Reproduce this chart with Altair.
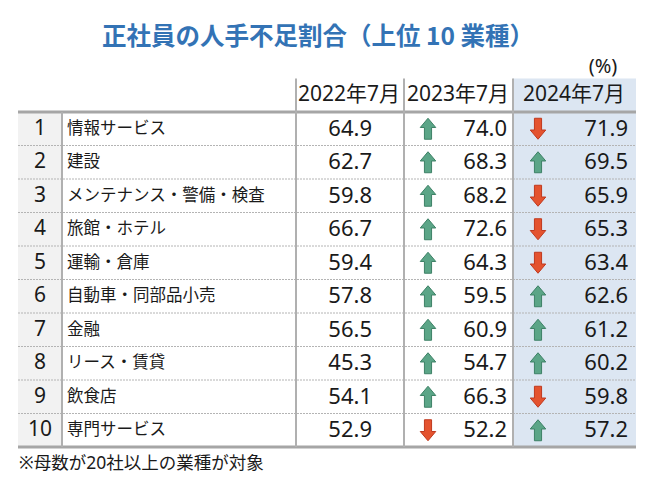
import altair as alt
import pandas as pd

# ---------------- data ----------------
ranks = list(range(1, 11))
industries = ["情報サービス", "建設", "メンテナンス・警備・検査", "旅館・ホテル", "運輸・倉庫",
              "自動車・同部品小売", "金融", "リース・賃貸", "飲食店", "専門サービス"]
v2022 = [64.9, 62.7, 59.8, 66.7, 59.4, 57.8, 56.5, 45.3, 54.1, 52.9]
v2023 = [74.0, 68.3, 68.2, 72.6, 64.3, 59.5, 60.9, 54.7, 66.3, 52.2]
v2024 = [71.9, 69.5, 65.9, 65.3, 63.4, 62.6, 61.2, 60.2, 59.8, 57.2]
headers = ["2022年7月", "2023年7月", "2024年7月"]
title_text = "正社員の人手不足割合（上位 10 業種）"
unit_text = "(%)"
note_text = "※母数が20社以上の業種が対象"

# ---------------- layout (image pixel units) ----------------
X_LEFT, X_RANK, X_RIGHT = 18, 62, 636
X_COLS = [296, 404, 513]
X_VAL_RIGHT = [372, 507, 628]
X_ARROW = [428, 538]
X_HEAD = [349, 458, 574]
FONT = "Noto Sans CJK JP"
NUMFONT = "Noto Sans, Noto Sans CJK JP"

W, H = 634, 469
xs = alt.Scale(domain=[8, 8 + W], range=[0, W])
# row r centre at image y = 112 + 33.5*(r-0.5)
r_top = 0.5 + (8 - 112) / 33.5
r_bot = 0.5 + (8 + H - 112) / 33.5
ys = alt.Scale(domain=[r_top, r_bot], range=[0, H])
def row_at(py):
    return 0.5 + (py - 112) / 33.5

X = lambda f: alt.X(f, type="quantitative", scale=xs, axis=None)
X2 = lambda f: alt.X2(f)
Y = lambda f: alt.Y(f, type="quantitative", scale=ys, axis=None)
Y2 = lambda f: alt.Y2(f)

# backgrounds
bg = pd.DataFrame([
    {"x0": X_LEFT, "x1": X_RANK, "r0": 0.5, "r1": 10.5, "fill": "#F2F2F2"},
    {"x0": X_COLS[2], "x1": X_RIGHT, "r0": -0.5, "r1": 10.5, "fill": "#DCE6F2"},
])
bg_layer = alt.Chart(bg).mark_rect().encode(
    x=X("x0"), x2=X2("x1"), y=Y("r0"), y2=Y2("r1"),
    color=alt.Color("fill:N", scale=None))

# lines
thick = pd.DataFrame({"x0": [X_LEFT, X_LEFT], "x1": [X_RIGHT, X_RIGHT], "r": [0.5, 10.5]})
thick_layer = alt.Chart(thick).mark_rule(color="#A6A6A6", strokeWidth=3).encode(
    x=X("x0"), x2=X2("x1"), y=Y("r"))
dashed = pd.DataFrame({"x0": X_LEFT, "x1": X_RIGHT, "r": [i + 0.5 for i in range(1, 10)]})
dash_layer = alt.Chart(dashed).mark_rule(color="#B4B4B4", strokeWidth=1, strokeDash=[2, 1]).encode(
    x=X("x0"), x2=X2("x1"), y=Y("r"))
vert = pd.DataFrame({"x": [X_RANK] + X_COLS, "r0": [0.5, -0.5, -0.5, -0.5], "r1": [10.5] * 4})
vert_layer = alt.Chart(vert).mark_rule(color="#B0B0B0", strokeWidth=2).encode(
    x=X("x"), y=Y("r0"), y2=Y2("r1"))

# table body text
body = pd.DataFrame({"rank": ranks, "name": industries,
                     "v22": v2022, "v23": v2023, "v24": v2024})
body["r"] = body["rank"]
rank_layer = alt.Chart(body).transform_calculate(xp=str(40)).mark_text(
    font=NUMFONT, fontSize=21, color="#1a1a1a", align="center", baseline="middle").encode(
    x=X("xp"), y=Y("r"), text=alt.Text("rank:Q"))
name_layer = alt.Chart(body).transform_calculate(xp=str(67)).mark_text(
    font=FONT, fontSize=16.5, color="#1a1a1a", align="left", baseline="middle").encode(
    x=X("xp"), y=Y("r"), text=alt.Text("name:N"))

vals = []
for col, xr in zip(["v22", "v23", "v24"], X_VAL_RIGHT):
    for rk, v in zip(ranks, body[col]):
        vals.append({"r": rk, "x": xr, "label": f"{v:.1f}"})
vals = pd.DataFrame(vals)
val_layer = alt.Chart(vals).mark_text(
    font=NUMFONT, fontSize=22, color="#1a1a1a", align="right", baseline="middle").encode(
    x=X("x"), y=Y("r"), text=alt.Text("label:N"))

# arrows
arr = []
for prev, cur, xa in [(v2022, v2023, X_ARROW[0]), (v2023, v2024, X_ARROW[1])]:
    for rk, p, c in zip(ranks, prev, cur):
        arr.append({"r": rk, "x": xa, "dir": "up" if c > p else "down"})
arr = pd.DataFrame(arr)
UP = "M0,-1 L0.74,-0.12 L0.34,-0.12 L0.34,1 L-0.34,1 L-0.34,-0.12 L-0.74,-0.12 Z"
DOWN = "M0,1 L0.74,0.12 L0.34,0.12 L0.34,-1 L-0.34,-1 L-0.34,0.12 L-0.74,0.12 Z"
up_layer = alt.Chart(arr).transform_filter("datum.dir == 'up'").mark_point(
    shape=UP, size=440, filled=True, fill="#5BA587", stroke="#3D8166", strokeWidth=1, opacity=1).encode(
    x=X("x"), y=Y("r"))
down_layer = alt.Chart(arr).transform_filter("datum.dir == 'down'").mark_point(
    shape=DOWN, size=440, filled=True, fill="#E4532F", stroke="#C0391E", strokeWidth=1, opacity=1).encode(
    x=X("x"), y=Y("r"))

# headers
hdr = pd.DataFrame({"x": X_HEAD, "r": [0] * 3, "label": headers})
hdr_layer = alt.Chart(hdr).mark_text(
    font=NUMFONT, fontSize=21, color="#1a1a1a", align="center", baseline="middle").encode(
    x=X("x"), y=Y("r"), text=alt.Text("label:N"))

# title, unit, note
misc = pd.DataFrame([
    {"x": 318, "r": row_at(38), "label": title_text, "kind": "title"},
    {"x": 603, "r": row_at(67), "label": unit_text, "kind": "unit"},
    {"x": 19, "r": row_at(464), "label": note_text, "kind": "note"},
])
title_layer = alt.Chart(misc).transform_filter("datum.kind == 'title'").mark_text(
    font=FONT, fontSize=24.5, fontWeight="bold", color="#3373B5", align="center", baseline="middle").encode(
    x=X("x"), y=Y("r"), text=alt.Text("label:N"))
unit_layer = alt.Chart(misc).transform_filter("datum.kind == 'unit'").mark_text(
    font=NUMFONT, fontSize=20, color="#1a1a1a", align="center", baseline="middle").encode(
    x=X("x"), y=Y("r"), text=alt.Text("label:N"))
note_layer = alt.Chart(misc).transform_filter("datum.kind == 'note'").mark_text(
    font=NUMFONT, fontSize=17.5, color="#1a1a1a", align="left", baseline="middle").encode(
    x=X("x"), y=Y("r"), text=alt.Text("label:N"))

chart = alt.layer(
    bg_layer, dash_layer, thick_layer, vert_layer,
    rank_layer, name_layer, val_layer, up_layer, down_layer,
    hdr_layer, title_layer, unit_layer, note_layer,
).properties(width=W, height=H, autosize="none", padding=0, background="white"
).configure_view(stroke=None)

chart.save("out.html", embed_options={"renderer": "svg", "actions": False})
